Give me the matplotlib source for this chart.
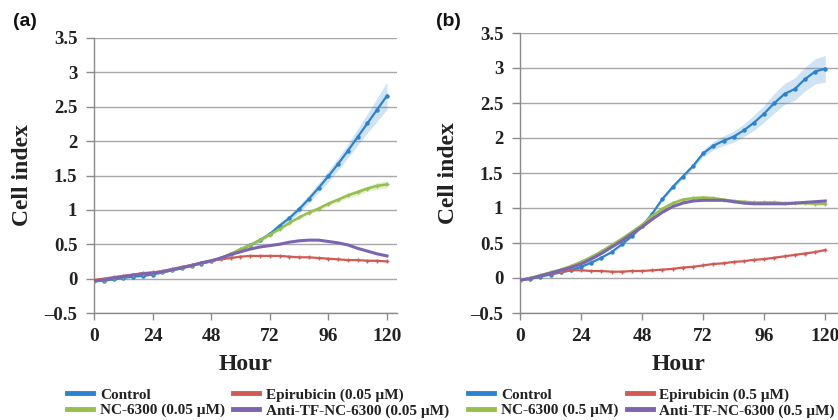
import numpy as np
import matplotlib
matplotlib.use("Agg")
import matplotlib.pyplot as plt

hours = list(range(0, 121, 4))

# Panel (a) – 0.05 µM
ctrl_a = [-0.04, -0.03, -0.01, 0.01, 0.03, 0.04, 0.06, 0.09, 0.12, 0.15, 0.19, 0.22, 0.25,
          0.30, 0.36, 0.42, 0.49, 0.56, 0.65, 0.77, 0.88, 1.01, 1.16, 1.32, 1.49, 1.67,
          1.86, 2.06, 2.26, 2.46, 2.66]
ctrl_a_err = [0.01] * 13 + [0.02, 0.02, 0.02, 0.02, 0.03, 0.03, 0.04, 0.05, 0.05, 0.06,
                            0.07, 0.08, 0.09, 0.10, 0.12, 0.14, 0.17, 0.20]
epi_a = [-0.02, 0.00, 0.02, 0.04, 0.06, 0.08, 0.09, 0.11, 0.14, 0.17, 0.20, 0.23, 0.26,
         0.28, 0.30, 0.32, 0.33, 0.33, 0.33, 0.33, 0.32, 0.31, 0.31, 0.30, 0.29, 0.28,
         0.27, 0.27, 0.26, 0.26, 0.25]
nc_a = [-0.03, -0.02, 0.01, 0.03, 0.05, 0.07, 0.08, 0.10, 0.13, 0.16, 0.19, 0.23, 0.26,
        0.30, 0.36, 0.43, 0.49, 0.56, 0.64, 0.72, 0.81, 0.89, 0.96, 1.02, 1.09, 1.15,
        1.21, 1.26, 1.31, 1.35, 1.37]
nc_a_err = [0.01] * 15 + [0.02] * 8 + [0.03, 0.03, 0.03, 0.04, 0.04, 0.04, 0.05, 0.05]
anti_a = [-0.03, -0.02, 0.01, 0.03, 0.05, 0.07, 0.08, 0.10, 0.13, 0.16, 0.19, 0.23, 0.26,
          0.30, 0.35, 0.39, 0.43, 0.46, 0.48, 0.50, 0.53, 0.55, 0.56, 0.56, 0.54, 0.52,
          0.49, 0.44, 0.40, 0.36, 0.33]

# Panel (b) – 0.5 µM
ctrl_b = [-0.03, -0.01, 0.02, 0.05, 0.08, 0.11, 0.16, 0.22, 0.29, 0.37, 0.48, 0.60, 0.74,
          0.92, 1.13, 1.30, 1.45, 1.60, 1.78, 1.89, 1.96, 2.02, 2.11, 2.22, 2.35, 2.50,
          2.63, 2.70, 2.84, 2.95, 2.99]
ctrl_b_err = [0.01] * 11 + [0.02, 0.02, 0.02, 0.02, 0.03, 0.03, 0.03, 0.05, 0.06, 0.07,
                            0.08, 0.09, 0.11, 0.12, 0.14, 0.15, 0.16, 0.17, 0.18, 0.19]
epi_b = [-0.03, 0.00, 0.03, 0.06, 0.09, 0.11, 0.11, 0.10, 0.10, 0.09, 0.09, 0.10, 0.10,
         0.11, 0.12, 0.13, 0.15, 0.16, 0.18, 0.20, 0.21, 0.23, 0.24, 0.26, 0.27, 0.29,
         0.31, 0.33, 0.35, 0.37, 0.40]
nc_b = [-0.03, 0.00, 0.04, 0.08, 0.12, 0.17, 0.23, 0.30, 0.38, 0.47, 0.56, 0.66, 0.76,
        0.89, 0.99, 1.07, 1.12, 1.14, 1.15, 1.14, 1.12, 1.10, 1.09, 1.08, 1.08, 1.08,
        1.07, 1.07, 1.07, 1.06, 1.06]
nc_b_err = [0.01] * 10 + [0.02] * 6 + [0.03, 0.03, 0.03, 0.03, 0.02] + [0.02] * 10
anti_b = [-0.03, -0.01, 0.03, 0.07, 0.11, 0.15, 0.20, 0.27, 0.35, 0.44, 0.53, 0.63, 0.73,
          0.84, 0.94, 1.02, 1.07, 1.10, 1.11, 1.11, 1.11, 1.09, 1.07, 1.06, 1.06, 1.06,
          1.06, 1.07, 1.08, 1.09, 1.10]

labels_a = ["Control", "NC-6300 (0.05 \u00b5M)", "Epirubicin (0.05 \u00b5M)", "Anti-TF-NC-6300 (0.05 \u00b5M)"]
labels_b = ["Control", "NC-6300 (0.5 \u00b5M)", "Epirubicin (0.5 \u00b5M)", "Anti-TF-NC-6300 (0.5 \u00b5M)"]
xticks = [0, 24, 48, 72, 96, 120]
yticks = [-0.5, 0, 0.5, 1, 1.5, 2, 2.5, 3, 3.5]
ytick_labels = ["\u20130.5", "0", "0.5", "1", "1.5", "2", "2.5", "3", "3.5"]

C_CTRL = "#2b83d0"
C_EPI = "#d25a55"
C_NC = "#95c04a"
C_ANTI = "#7d64b2"

SERIF = "Liberation Serif"
SANS = "Liberation Sans"

fig = plt.figure(figsize=(8.38, 4.2), dpi=100)


def draw(ax, ctrl, ctrl_err, epi, nc, nc_err, anti, labels, xmax):
    h = np.array(hours)
    ax.set_xlim(0, xmax)
    ax.set_ylim(-0.5, 3.5)
    ax.set_yticks(yticks)
    ax.set_yticklabels(ytick_labels)
    ax.set_xticks(xticks)
    ax.yaxis.grid(True, color="#a8a8a8", lw=1.0)
    ax.set_axisbelow(True)
    for s in ["top", "right"]:
        ax.spines[s].set_visible(False)
    for s in ["left", "bottom"]:
        ax.spines[s].set_color("#8a8a8a")
        ax.spines[s].set_linewidth(1.0)
    ax.tick_params(axis="y", colors="#8a8a8a", length=6, width=1.0, pad=6)
    ax.tick_params(axis="x", colors="#8a8a8a", length=5, width=1.0, pad=6)
    for t in ax.get_xticklabels():
        t.set_fontfamily(SERIF); t.set_fontweight("bold"); t.set_fontsize(14); t.set_color("#222222")
    for t in ax.get_yticklabels():
        t.set_fontfamily(SERIF); t.set_fontweight("bold"); t.set_fontsize(13.5); t.set_color("#222222")

    c = np.array(ctrl); ce = np.array(ctrl_err)
    n = np.array(nc); ne = np.array(nc_err)
    ax.fill_between(h, c - ce, c + ce, color=C_CTRL, alpha=0.22, lw=0)
    ax.fill_between(h, n - ne, n + ne, color=C_NC, alpha=0.25, lw=0)
    l1, = ax.plot(h, ctrl, color=C_CTRL, lw=1.6, marker="o", ms=2.2, label=labels[0], zorder=3)
    l3, = ax.plot(h, epi, color=C_EPI, lw=1.6, marker="+", ms=3, label=labels[2], zorder=3)
    l2, = ax.plot(h, nc, color=C_NC, lw=1.8, marker="+", ms=3, label=labels[1], zorder=3)
    l4, = ax.plot(h, anti, color=C_ANTI, lw=2.2, label=labels[3], zorder=4)
    ax.set_xlabel("Hour", fontfamily=SERIF, fontweight="bold", fontsize=17, color="#222222", labelpad=6)
    ax.set_ylabel("Cell index", fontfamily=SERIF, fontweight="bold", fontsize=17, color="#222222", labelpad=8)
    return [l1, l2, l3, l4]


ax_a = fig.add_axes([94 / 838, 1 - 313 / 420, 303 / 838, 275 / 420])
ha = draw(ax_a, ctrl_a, ctrl_a_err, epi_a, nc_a, nc_a_err, anti_a, labels_a, 124.1)
ax_b = fig.add_axes([520 / 838, 1 - 313 / 420, 318 / 838, 280 / 420])
hb = draw(ax_b, ctrl_b, ctrl_b_err, epi_b, nc_b, nc_b_err, anti_b, labels_b, 125)

leg_font = {"family": SERIF, "weight": "bold", "size": 11}
for handles, x0 in [(ha, 67 / 838), (hb, 468 / 838)]:
    leg = fig.legend(handles=handles, loc="upper left", bbox_to_anchor=(x0, 1 - 388 / 420),
                     ncol=2, frameon=False, prop=leg_font, handlelength=1.7,
                     handletextpad=0.45, columnspacing=0.55, labelspacing=0.12,
                     borderaxespad=0, borderpad=0)
    for lh in leg.get_lines():
        lh.set_linewidth(3.5)
        lh.set_marker("")
    for t in leg.get_texts():
        t.set_color("#222222")

fig.text(25 / 838, 1 - 22 / 420, "(a)", fontfamily=SANS, fontweight="bold", fontsize=14,
         ha="center", va="center", color="#111111")
fig.text(448 / 838, 1 - 22 / 420, "(b)", fontfamily=SANS, fontweight="bold", fontsize=14,
         ha="center", va="center", color="#111111")

fig.savefig("out.png", dpi=100)
